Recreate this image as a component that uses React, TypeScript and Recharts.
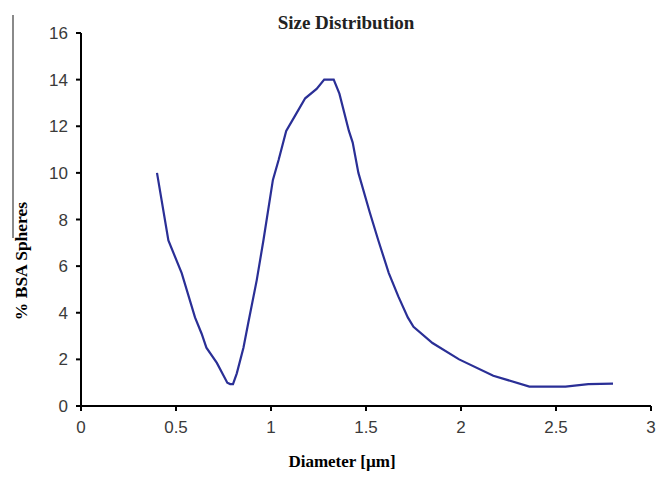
import { LineChart, Line, XAxis, YAxis } from 'recharts';

const diameters = [
  0.4, 0.46, 0.53, 0.6, 0.635, 0.66, 0.715, 0.77, 0.785, 0.8, 0.82, 0.855, 0.88, 0.925, 0.96,
  1.01, 1.04, 1.08, 1.13, 1.18, 1.24, 1.28, 1.33, 1.36, 1.41, 1.43, 1.46, 1.52, 1.565, 1.62,
  1.67, 1.72, 1.75, 1.85, 1.99, 2.17, 2.36, 2.55, 2.67, 2.8,
];
const percentSpheres = [
  10.0, 7.1, 5.7, 3.8, 3.1, 2.5, 1.85, 1.0, 0.94, 0.94, 1.4, 2.5, 3.55, 5.4, 7.1,
  9.7, 10.55, 11.8, 12.5, 13.2, 13.6, 14.0, 14.0, 13.4, 11.8, 11.3, 10.0, 8.3, 7.1, 5.7,
  4.7, 3.8, 3.4, 2.7, 2.0, 1.3, 0.83, 0.83, 0.94, 0.96,
];
const xTicks = [0, 0.5, 1, 1.5, 2, 2.5, 3];
const yTicks = [0, 2, 4, 6, 8, 10, 12, 14, 16];

const datos = diameters.map((d, i) => ({ diameter: d, pct: percentSpheres[i] }));

const serif = '"Liberation Serif", "Times New Roman", serif';
const tickStyle = { fontSize: 17, fill: '#3a3a3a', fontFamily: '"Liberation Sans", Arial, sans-serif' };
const ejeLinea = { stroke: '#000', strokeWidth: 2 };

export default function App() {
  return (
    <div style={{ position: 'absolute', left: 0, top: 0, width: 656, height: 479, background: '#fff' }}>
      <div style={{ position: 'absolute', left: 12, top: 15, width: 2, height: 223, background: '#8a8a8a' }} />
      <LineChart width={656} height={479} data={datos} margin={{ top: 33, right: 5, left: 0, bottom: 43 }}>
        <XAxis
          dataKey="diameter"
          type="number"
          domain={[0, 3]}
          ticks={xTicks}
          height={30}
          tickSize={5}
          tickMargin={10}
          axisLine={ejeLinea}
          tickLine={ejeLinea}
          tick={tickStyle}
          allowDataOverflow
        />
        <YAxis
          type="number"
          domain={[0, 16]}
          ticks={yTicks}
          width={81}
          tickSize={5}
          tickMargin={8}
          axisLine={ejeLinea}
          tickLine={ejeLinea}
          tick={tickStyle}
        />
        <Line
          dataKey="pct"
          type="linear"
          stroke="#2a2f96"
          strokeWidth={2.2}
          dot={false}
          isAnimationActive={false}
        />
      </LineChart>
      <div
        style={{
          position: 'absolute', left: 246, top: 12, width: 200, textAlign: 'center',
          fontFamily: serif, fontWeight: 'bold', fontSize: 19, color: '#222',
        }}
      >
        Size Distribution
      </div>
      <div
        style={{
          position: 'absolute', left: 242, top: 452, width: 200, textAlign: 'center',
          fontFamily: serif, fontWeight: 'bold', fontSize: 17, color: '#000',
        }}
      >
        Diameter [µm]
      </div>
      <div
        style={{
          position: 'absolute', left: 21, top: 261, width: 200, textAlign: 'center',
          fontFamily: serif, fontWeight: 'bold', fontSize: 17.5, color: '#000', lineHeight: '20px',
          transform: 'translate(-50%, -50%) rotate(-90deg)',
        }}
      >
        % BSA Spheres
      </div>
    </div>
  );
}
